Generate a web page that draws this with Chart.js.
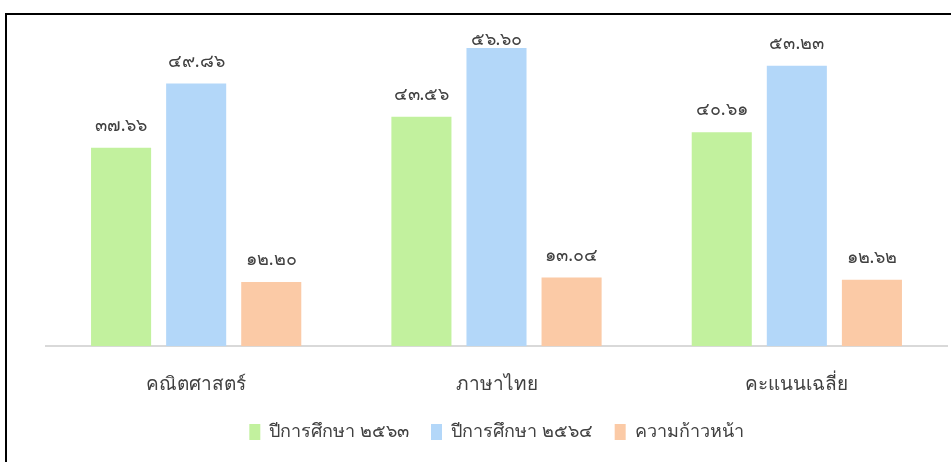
<!DOCTYPE html>
<html>
<head>
<meta charset="utf-8">
<script src="https://cdn.jsdelivr.net/npm/chart.js@4/dist/chart.umd.min.js"></script>
<style>
  html, body { margin: 0; padding: 0; background: #fff; overflow: hidden; }
  #frame { position: absolute; left: 5px; top: 13px; width: 980px; height: 500px; border: 2px solid #000; box-sizing: border-box; }
  #wrap { position: absolute; left: 0; top: 0; width: 951px; height: 462px; }
</style>
</head>
<body>
<div id="frame"></div>
<div id="wrap"><canvas id="c" width="951" height="462"></canvas></div>
<script>
const categories = ['คณิตศาสตร์', 'ภาษาไทย', 'คะแนนเฉลี่ย'];
const seriesNames = ['ปีการศึกษา ๒๕๖๓', 'ปีการศึกษา ๒๕๖๔', 'ความก้าวหน้า'];
const year2563 = [37.66, 43.56, 40.61];
const year2564 = [49.86, 56.60, 53.23];
const progress = [12.20, 13.04, 12.62];
const colors = ['#c2f19e', '#b3d7f9', '#fbcaa6'];

const thaiDigits = '๐๑๒๓๔๕๖๗๘๙';
const toThai = v => v.toFixed(2).replace(/\d/g, d => thaiDigits[+d]);
const FONT = "'Noto Sans', 'DejaVu Sans', sans-serif";

const valueLabels = {
  id: 'valueLabels',
  afterDatasetsDraw(chart) {
    const ctx = chart.ctx;
    const top = chart.chartArea.top;
    ctx.save();
    ctx.font = '18px ' + FONT;
    ctx.fillStyle = '#404040';
    ctx.textAlign = 'center';
    ctx.textBaseline = 'middle';
    chart.data.datasets.forEach((ds, i) => {
      chart.getDatasetMeta(i).data.forEach((bar, j) => {
        const y = Math.max(bar.y - 22, top + 10);
        ctx.fillText(toThai(ds.data[j]), bar.x, y);
      });
    });
    ctx.restore();
  }
};

new Chart(document.getElementById('c'), {
  type: 'bar',
  data: {
    labels: categories,
    datasets: [
      { label: seriesNames[0], data: year2563, backgroundColor: colors[0] },
      { label: seriesNames[1], data: year2564, backgroundColor: colors[1] },
      { label: seriesNames[2], data: progress, backgroundColor: colors[2] }
    ]
  },
  options: {
    responsive: false,
    animation: false,
    devicePixelRatio: 1,
    layout: { padding: { left: 46, right: 4, top: 30, bottom: 11 } },
    datasets: { bar: { categoryPercentage: 0.75, barPercentage: 0.8 } },
    scales: {
      x: {
        grid: { display: false, drawTicks: false },
        border: { display: true, color: '#d9d9d9', width: 2 },
        ticks: { padding: 27, color: '#404040', font: { family: FONT, size: 19 } },
        afterFit(scale) { scale.height -= 22; }
      },
      y: {
        display: false,
        min: 0, max: 60
      }
    },
    plugins: {
      legend: {
        position: 'bottom',
        labels: { boxWidth: 11, boxHeight: 16, padding: 22, color: '#404040', font: { family: FONT, size: 18 } }
      },
      tooltip: { enabled: false },
      title: { display: false }
    }
  },
  plugins: [valueLabels]
});
</script>
</body>
</html>
